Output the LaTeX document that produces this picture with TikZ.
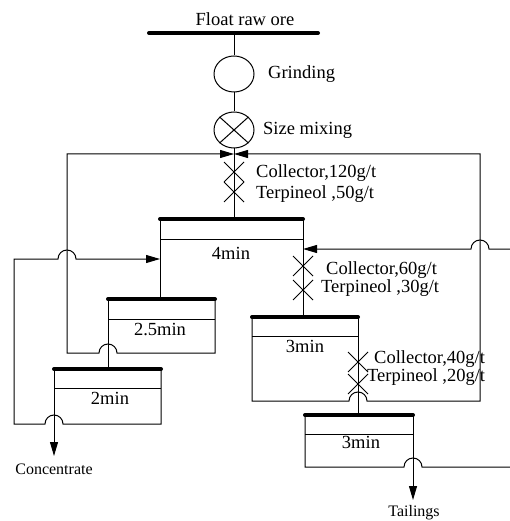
\documentclass[tikz,border=0pt]{standalone}
\usepackage{fontspec}
\setmainfont{Liberation Serif}
\usetikzlibrary{arrows.meta,shapes.geometric}
\begin{document}
\begin{tikzpicture}[x=1pt,y=-1pt,
  ln/.style={line width=1pt},
  bar/.style={line width=4pt,line cap=round},
  tip/.style={-{Triangle[length=14pt,width=8pt]}},
  lbl/.style={font=\fontsize{18.5}{20}\selectfont,inner sep=0pt},
  sml/.style={font=\fontsize{16}{18}\selectfont,inner sep=0pt},
  oval/.style={draw,ellipse,line width=1pt,minimum width=40pt,minimum height=36pt,inner sep=0pt}]
\useasboundingbox (0,0) rectangle (510,521);
% feed
\draw[bar] (149,33) -- (318,33);
\coordinate (feed) at (234,33);
\node[lbl,anchor=base] (ore) at (245,26) {Float raw ore};
\node[oval] (grind) at (234,74) {};
\node[oval] (mix) at (234,130) {};
\draw[ln] (mix.north west) -- (mix.south east) (mix.north east) -- (mix.south west);
\node[lbl,anchor=base west] (tgrind) at (268,79) {Grinding};
\node[lbl,anchor=base west] (tmix) at (263,135) {Size mixing};
\draw[ln] (feed) -- (grind.north);
\draw[ln] (grind.south) -- (mix.north);
\coordinate (join) at (234,154);
% boxes (tops)
\coordinate (r1) at (234,219);
\draw[bar] (160,219) -- (303,219);
\draw[ln] (160,239) -- (303,239);
\draw[bar] (108,299) -- (215,299);
\draw[ln] (108,319) -- (215,319);
\draw[bar] (54,369) -- (161,369);
\draw[ln] (54,388) -- (161,388);
\draw[bar] (252,317) -- (358,317);
\draw[ln] (252,336) -- (358,336);
\draw[bar] (305,415) -- (413,415);
\draw[ln] (305,434) -- (413,434);
% box labels
\node[lbl,anchor=base] (t4) at (231,259) {4min};
\node[lbl,anchor=base] (t25) at (160,335) {2.5min};
\node[lbl,anchor=base] (t2) at (110,404) {2min};
\node[lbl,anchor=base] (t3a) at (305,352) {3min};
\node[lbl,anchor=base] (t3b) at (361,448) {3min};
% main vertical links
\draw[ln] (mix.south) -- (r1);
\draw[ln] (160,219) -- (160,299);
\draw[ln] (303,219) -- (303,317);
\draw[ln] (108,299) -- (108,369);
\draw[ln] (358,317) -- (358,415);
\draw[ln,tip] (54,369) -- (54,456);
\draw[ln,tip] (413,415) -- (413,500);
% recycle lines
\draw[ln,tip] (215,299) -- (215,353) -- (117,353) arc[start angle=0,end angle=180,radius=9pt] -- (67,353) -- (67,154) -- (join);
\draw[ln,tip] (252,317) -- (252,401) -- (349,401) arc[start angle=180,end angle=0,radius=9pt] -- (480,401) -- (480,154) -- (join);
\draw[ln,tip] (161,369) -- (161,424) -- (63,424) arc[start angle=0,end angle=180,radius=9pt] -- (14,424) -- (14,259) -- (58,259) arc[start angle=180,end angle=0,radius=9pt] -- (160,259);
\draw[ln,tip] (510,249) -- (489,249) arc[start angle=0,end angle=180,radius=9pt] -- (303,249);
\draw[ln] (305,415) -- (305,467) -- (404,467) arc[start angle=180,end angle=0,radius=9pt] -- (510,467);
% reagent marks
\foreach \p in {(234,172),(234,192),(303,266),(303,290),(358,362),(358,384)}
  \draw[ln,shift={\p}] (-10,-10) -- (10,10) (-10,10) -- (10,-10);
\node[lbl,anchor=base west] (c1) at (256,178) {Collector,120g/t};
\node[lbl,anchor=base west] (p1) at (256,198) {Terpineol ,50g/t};
\node[lbl,anchor=base west] (c2) at (326,274) {Collector,60g/t};
\node[lbl,anchor=base west] (p2) at (321,292) {Terpineol ,30g/t};
\node[lbl,anchor=base west] (c3) at (374,363) {Collector,40g/t};
\node[lbl,anchor=base west] (p3) at (367,381) {Terpineol ,20g/t};
% products
\node[sml,anchor=base] (conc) at (54,474) {Concentrate};
\node[sml,anchor=base] (tail) at (414,516) {Tailings};
\end{tikzpicture}
\end{document}
